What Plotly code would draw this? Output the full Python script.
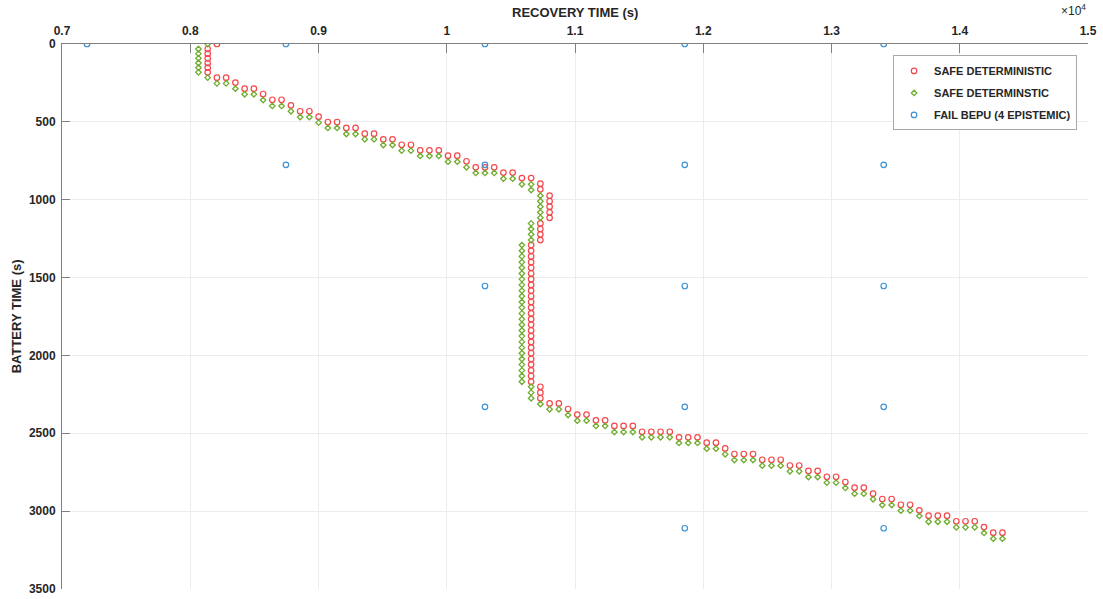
import plotly.graph_objects as go

# ---------------- data ----------------
x_tick_vals = [7000, 8000, 9000, 10000, 11000, 12000, 13000, 14000, 15000]
x_tick_text = ["0.7", "0.8", "0.9", "1", "1.1", "1.2", "1.3", "1.4", "1.5"]
y_tick_vals = [0, 500, 1000, 1500, 2000, 2500, 3000, 3500]

safe_det_x = [
    8208,
    8136, 8136, 8136, 8136, 8136, 8136,
    8208, 8280, 8352, 8424, 8496, 8568, 8640, 8712, 8785, 8857, 8929, 9001,
    9073, 9145, 9217, 9289, 9361, 9433, 9505, 9577, 9649, 9721,
    9793, 9865, 9938, 10010, 10082, 10154, 10226, 10298, 10370,
    10442, 10514, 10586, 10658, 10730, 10730,
    10802, 10802, 10802, 10802, 10802,
    10730, 10730, 10730, 10730,
    10658, 10658, 10658, 10658, 10658, 10658, 10658, 10658, 10658, 10658,
    10658, 10658, 10658, 10658, 10658, 10658, 10658, 10658, 10658, 10658,
    10658, 10658, 10658, 10658, 10658,
    10730, 10730, 10730,
    10802, 10874, 10946, 11018, 11090, 11163, 11235,
    11307, 11379, 11451, 11523, 11595, 11667, 11739,
    11811, 11883, 11955, 12027, 12099, 12171,
    12243, 12316, 12388, 12460, 12532, 12604,
    12676, 12748, 12820, 12892, 12964, 13036, 13108,
    13180, 13252, 13324, 13396, 13469, 13541, 13613, 13685,
    13757, 13829, 13901, 13973, 14045, 14117, 14189, 14261, 14333,
]
safe_det_y = [
    0,
    32, 62, 92, 122, 152, 182,
    216, 216, 248, 287, 287, 321, 358, 358, 394, 432, 432, 467,
    501, 501, 539, 539, 576, 576, 612, 612, 647, 647,
    683, 683, 683, 717, 717, 753, 792, 792, 792,
    826, 826, 861, 861, 897, 933,
    974, 1010, 1045, 1081, 1116,
    1152, 1188, 1222, 1259,
    1291, 1328, 1364, 1401, 1437, 1474, 1510, 1547, 1584, 1620,
    1657, 1693, 1730, 1767, 1803, 1840, 1876, 1913, 1950, 1986,
    2023, 2059, 2096, 2132, 2169,
    2201, 2239, 2275,
    2308, 2308, 2344, 2380, 2380, 2417, 2417,
    2453, 2453, 2453, 2490, 2490, 2490, 2490,
    2526, 2526, 2526, 2560, 2560, 2597,
    2633, 2633, 2633, 2670, 2670, 2670,
    2707, 2707, 2742, 2742, 2779, 2779, 2813,
    2849, 2849, 2888, 2922, 2922, 2959, 2959, 2995,
    3029, 3029, 3029, 3065, 3065, 3065, 3102, 3138, 3138,
]

safe_detm_x = [
    8136,
    8064, 8064, 8064, 8064, 8064, 8064,
    8136, 8208, 8280, 8352, 8424, 8496, 8568, 8640, 8712, 8785, 8857, 8929,
    9001, 9073, 9145, 9217, 9289, 9361, 9433, 9505, 9577, 9649, 9721,
    9793, 9865, 9938, 10010, 10082, 10154, 10226, 10298, 10370,
    10442, 10514, 10586, 10658, 10658,
    10730, 10730, 10730, 10730, 10730,
    10658, 10658, 10658, 10658,
    10586, 10586, 10586, 10586, 10586, 10586, 10586, 10586, 10586, 10586,
    10586, 10586, 10586, 10586, 10586, 10586, 10586, 10586, 10586, 10586,
    10586, 10586, 10586, 10586, 10586,
    10658, 10658, 10658,
    10730, 10802, 10874, 10946, 11018, 11090, 11163, 11235,
    11307, 11379, 11451, 11523, 11595, 11667, 11739,
    11811, 11883, 11955, 12027, 12099, 12171,
    12243, 12316, 12388, 12460, 12532, 12604,
    12676, 12748, 12820, 12892, 12964, 13036, 13108,
    13180, 13252, 13324, 13396, 13469, 13541, 13613, 13685,
    13757, 13829, 13901, 13973, 14045, 14117, 14189, 14261, 14333,
]
safe_detm_y = [
    0,
    32, 62, 92, 122, 152, 182,
    216, 253, 253, 287, 323, 323, 360, 398, 398, 432, 469, 469,
    505, 539, 539, 578, 578, 612, 612, 649, 649, 685, 685,
    719, 719, 719, 756, 756, 792, 828, 828, 828,
    865, 865, 901, 901, 938,
    974, 1010, 1045, 1081, 1116,
    1152, 1188, 1222, 1259,
    1291, 1328, 1364, 1401, 1437, 1474, 1510, 1547, 1584, 1620,
    1657, 1693, 1730, 1767, 1803, 1840, 1876, 1913, 1950, 1986,
    2023, 2059, 2096, 2132, 2169,
    2201, 2239, 2275,
    2312, 2346, 2346, 2383, 2419, 2419, 2453, 2453,
    2492, 2492, 2492, 2526, 2526, 2526, 2526,
    2562, 2562, 2562, 2599, 2599, 2635,
    2672, 2672, 2672, 2708, 2708, 2708,
    2744, 2744, 2781, 2781, 2817, 2817, 2851,
    2888, 2888, 2924, 2961, 2961, 2997, 2997, 3031,
    3068, 3068, 3068, 3104, 3104, 3104, 3140, 3177, 3177,
]

fail_bepu_x = [7195, 8746, 10298, 11856, 13407,
               8746, 10298, 11856, 13407,
               10298, 11856, 13407,
               10298, 11856, 13407,
               11856, 13407]
fail_bepu_y = [0, 0, 0, 0, 0,
               776, 776, 776, 776,
               1554, 1554, 1554,
               2330, 2330, 2330,
               3110, 3110]

series_names = ["SAFE DETERMINISTIC", "SAFE DETERMINSTIC", "FAIL BEPU (4 EPISTEMIC)"]

# ---------------- figure ----------------
FONT = "Liberation Sans, Arial, Helvetica, sans-serif"
TXT = "#262626"

fig = go.Figure()
fig.add_trace(go.Scatter(
    x=safe_det_x, y=safe_det_y, mode="markers", name=series_names[0],
    legendgroup="a",
    marker=dict(symbol="circle-open", size=5.5, color="#f4474b", line=dict(width=1.2)),
))
fig.add_trace(go.Scatter(
    x=safe_detm_x, y=safe_detm_y, mode="markers", name=series_names[1],
    legendgroup="b",
    marker=dict(symbol="diamond-open", size=4.2, color="#6fad2e", line=dict(width=1.3)),
))
fig.add_trace(go.Scatter(
    x=fail_bepu_x, y=fail_bepu_y, mode="markers", name=series_names[2],
    legendgroup="c",
    marker=dict(symbol="circle-open", size=5.5, color="#3f93d4", line=dict(width=1.2)),
))

fig.update_layout(
    width=1103, height=599,
    margin=dict(l=62, r=15, t=44, b=10, autoexpand=False),
    paper_bgcolor="white", plot_bgcolor="white",
    font=dict(family=FONT, color=TXT),
    showlegend=True,
    legend=dict(
        x=0.81, y=0.979, xanchor="left", yanchor="top",
        bgcolor="white", bordercolor="#a8a8a8", borderwidth=1,
        font=dict(family=FONT, size=11, color=TXT, weight="bold"),
        tracegroupgap=3,
    ),
    xaxis=dict(
        side="top", range=[7000, 15000], automargin=False,
        tickvals=x_tick_vals, ticktext=x_tick_text,
        ticks="inside", ticklen=9, tickcolor="#808080", tickwidth=1,
        ticklabelstandoff=3,
        showline=True, linecolor="#808080", linewidth=1, mirror=False,
        showgrid=True, gridcolor="#ececec", gridwidth=1, zeroline=False,
        tickfont=dict(family=FONT, size=12, color=TXT, weight="bold"),
    ),
    yaxis=dict(
        range=[3500, 0], automargin=False,
        tickvals=y_tick_vals,
        ticks="inside", ticklen=8, tickcolor="#808080", tickwidth=1,
        ticklabelstandoff=3,
        showline=True, linecolor="#808080", linewidth=1, mirror=False,
        showgrid=True, gridcolor="#ececec", gridwidth=1, zeroline=False,
        tickfont=dict(family=FONT, size=12, color=TXT, weight="bold"),
    ),
    annotations=[
        dict(text="<b>RECOVERY TIME (s)</b>", xref="paper", yref="paper",
             x=0.5, y=1.057, xanchor="center", yanchor="middle", showarrow=False,
             font=dict(family=FONT, size=13, color=TXT)),
        dict(text="×10<sup>4</sup>", xref="paper", yref="paper",
             x=1.0, y=1.062, xanchor="right", yanchor="middle", showarrow=False,
             font=dict(family=FONT, size=12, color=TXT)),
        dict(text="<b>BATTERY TIME (s)</b>", xref="paper", yref="paper",
             x=-0.044, y=0.5, xanchor="center", yanchor="middle", showarrow=False,
             textangle=-90, font=dict(family=FONT, size=13, color=TXT)),
    ],
)

fig.write_html("out.html", config={"displayModeBar": False},
               post_script="document.body.style.margin='0px';document.body.style.overflow='hidden';")
